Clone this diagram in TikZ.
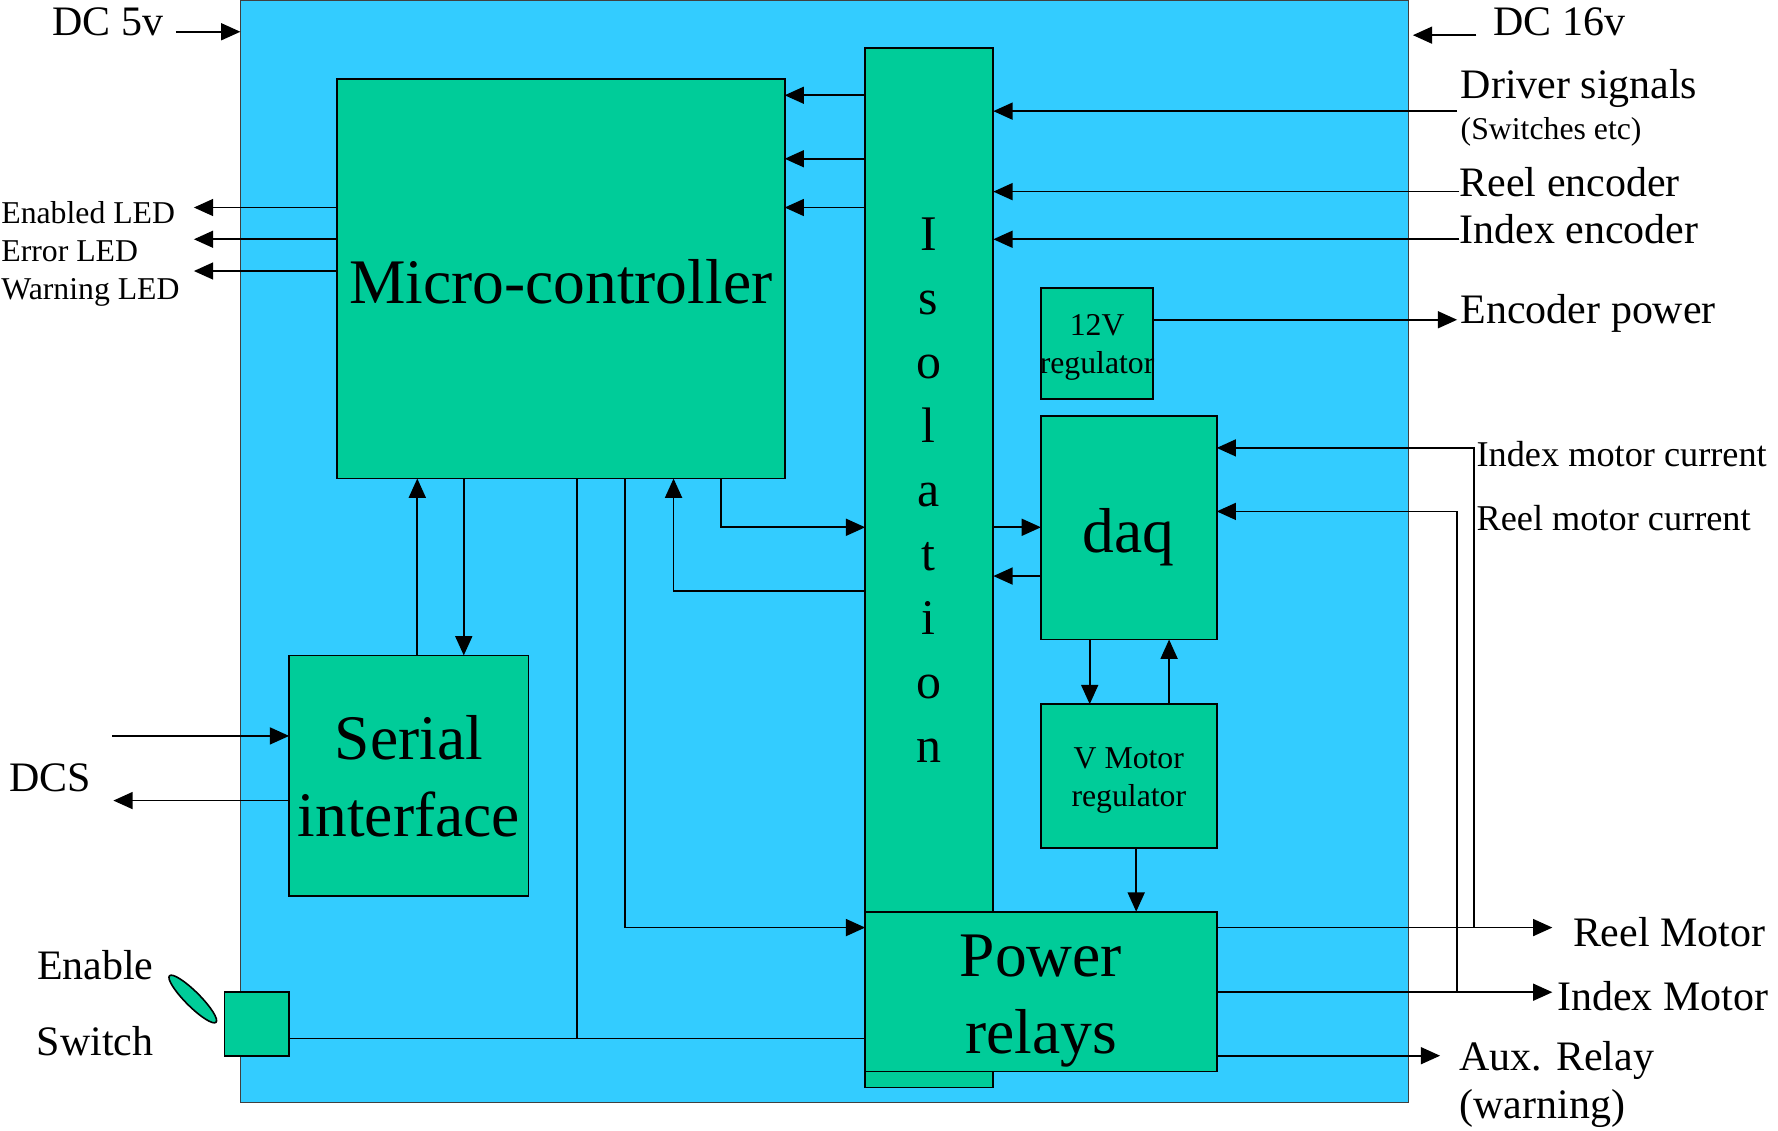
\documentclass[tikz,border=0pt]{standalone}
\usepackage{fontspec}
\setmainfont{Liberation Serif}
\usetikzlibrary{arrows.meta,shapes.geometric}
\definecolor{bgblue}{RGB}{51,204,255}
\definecolor{grn}{RGB}{0,204,153}
\begin{document}
\begin{tikzpicture}[x=1pt,y=-1pt,
  box/.style={draw=black, line width=1.6pt, fill=grn, anchor=north west, inner sep=0pt, outer sep=0pt},
  wire/.style={line width=1.4pt},
  arr/.style={wire, -{Triangle[length=17pt,width=15pt]}},
  tbig/.style={font=\fontsize{56}{68}\selectfont, inner sep=0pt, align=center},
  tlab/.style={font=\fontsize{37}{43}\selectfont, inner sep=0pt},
  tmid/.style={font=\fontsize{32}{38}\selectfont, inner sep=0pt},
  tsm/.style={font=\fontsize{28}{34}\selectfont, inner sep=0pt, align=center},
  tiso/.style={font=\fontsize{44}{56.4}\selectfont, inner sep=0pt, align=center},
]
\useasboundingbox (0,0) rectangle (1568,997);

% ---- boxes ----
\node[draw=black!75, line width=1.2pt, fill=bgblue, anchor=north west, inner sep=0pt, outer sep=0pt,
      minimum width=1030pt, minimum height=972pt] (main) at (212,0) {};
\node[box, minimum width=113pt, minimum height=917pt] (iso) at (763,42) {};
\node[box, minimum width=395pt, minimum height=352pt] (mc) at (297,70) {};
\node[box, minimum width=211pt, minimum height=212pt] (ser) at (255,578) {};
\node[box, minimum width=99pt, minimum height=98pt] (reg12) at (918,254) {};
\node[box, minimum width=155pt, minimum height=197pt] (daq) at (918,367) {};
\node[box, minimum width=155pt, minimum height=127pt] (vreg) at (918,621) {};
\node[box, minimum width=310pt, minimum height=141pt] (pr) at (763,804) {};
\node[box, minimum width=57pt, minimum height=56pt] (sw) at (198,875) {};
\node[draw=black, line width=1.4pt, fill=grn, ellipse, minimum width=58pt, minimum height=13pt,
      inner sep=0pt, rotate=-45] (knob) at (170,881) {};

% ---- box texts ----
\node[tbig, anchor=base] (mctext) at (494.5,268) {Micro-controller};
\node[tiso, anchor=north] (isotext) at (819,192) {I\\s\\o\\l\\a\\t\\i\\o\\n};
\node[tbig, anchor=north] (sertext) at (360.5,631) {Serial\\interface};
\node[tbig, anchor=north] (prtext) at (918,824) {Power\\relays};
\node[tbig, anchor=base] (daqtext) at (995.5,487) {daq};
\node[tsm, anchor=north] (vregtext) at (995.5,659) {V Motor\\regulator};
\node[tsm, anchor=north] (reg12text) at (967.5,277) {12V\\regulator};

% ---- outside labels ----
\node[tlab, anchor=base] (dc5) at (95,31) {DC 5v};
\node[tlab, anchor=base] (dc16) at (1375,31) {DC 16v};
\node[tlab, anchor=base west] (drv) at (1288,87) {Driver signals};
\node[tsm, anchor=base west] (swe) at (1288,123) {(Switches etc)};
\node[tlab, anchor=base west] (renc) at (1287,173) {Reel encoder};
\node[tlab, anchor=base west] (ienc) at (1287,215) {Index encoder};
\node[tlab, anchor=base west] (encp) at (1288,285) {Encoder power};
\node[tmid, anchor=base west] (imc) at (1302,411) {Index motor current};
\node[tmid, anchor=base west] (rmc) at (1302,468) {Reel motor current};
\node[tlab, anchor=base west] (rm) at (1387,835) {Reel Motor};
\node[tlab, anchor=base west] (im) at (1373,891) {Index Motor};
\node[tlab, anchor=base west] (aux) at (1287,944) {Aux. Relay};
\node[tlab, anchor=base west] (warn) at (1287,986) {(warning)};
\node[tlab, anchor=base] (dcs) at (44,698) {DCS};
\node[tlab, anchor=base] (en) at (84,864) {Enable};
\node[tlab, anchor=base] (swt) at (84,931) {Switch};
\node[tsm, anchor=base west] (led1) at (1,197) {Enabled LED};
\node[tsm, anchor=base west] (led2) at (1,231) {Error LED};
\node[tsm, anchor=base west] (led3) at (1,264) {Warning LED};

% ---- free ends ----
\coordinate (dc5a) at (155,28);
\coordinate (dc16a) at (1302,31);
\coordinate (drva) at (1285,98);
\coordinate (renca) at (1287,169);
\coordinate (ienca) at (1287,211);
\coordinate (encpa) at (1285,282);
\coordinate (led1a) at (171,183);
\coordinate (led2a) at (171,211);
\coordinate (led3a) at (171,239);
\coordinate (rma) at (1369,818);
\coordinate (ima) at (1369,875);
\coordinate (auxa) at (1270,931);
\coordinate (dcsin) at (99,649);
\coordinate (dcsout) at (100,706);
\coordinate (imcj) at (1300,818);
\coordinate (rmcj) at (1285,875);

% ---- connectors ----
\draw[arr] (dc5a) -- (dc5a -| main.west);
\draw[arr] (dc16a) -- ([xshift=4pt]dc16a -| main.east);
\foreach \yy in {84,140,183} \draw[arr] (iso.west |- 0,\yy) -- (mc.east |- 0,\yy);
\draw[arr] (drva) -- (drva -| iso.east);
\draw[arr] (renca) -- (renca -| iso.east);
\draw[arr] (ienca) -- (ienca -| iso.east);
\draw[arr] (encpa -| reg12.east) -- (encpa);
\draw[arr] (led1a -| mc.west) -- (led1a);
\draw[arr] (led2a -| mc.west) -- (led2a);
\draw[arr] (led3a -| mc.west) -- (led3a);
\draw[arr] (imcj) -- (1300,395) -- (daq.east |- 0,395);
\draw[arr] (rmcj) -- (1285,451) -- (daq.east |- 0,451);
\draw[arr] (iso.east |- 0,465) -- (daq.west |- 0,465);
\draw[arr] (daq.west |- 0,508) -- (iso.east |- 0,508);
\draw[arr] (daq.south -| 961,0) -- (vreg.north -| 961,0);
\draw[arr] (vreg.north -| 1031,0) -- (daq.south -| 1031,0);
\draw[arr] (vreg.south -| 1002,0) -- (pr.north -| 1002,0);
\draw[arr] (rma -| pr.east) -- (rma);
\draw[arr] (ima -| pr.east) -- (ima);
\draw[arr] (auxa -| pr.east) -- (auxa);
\draw[arr] (ser.north -| 368,0) -- (mc.south -| 368,0);
\draw[arr] (mc.south -| 409,0) -- (ser.north -| 409,0);
\draw[arr] (dcsin) -- (dcsin -| ser.west);
\draw[arr] (dcsout -| ser.west) -- (dcsout);
\draw[arr] (mc.south -| 551,0) -- (551,818) -- (pr.west |- 0,818);
\draw[arr] (mc.south -| 636,0) -- (636,465) -- (iso.west |- 0,465);
\draw[arr] (iso.west |- 0,521) -- (594,521) -- (mc.south -| 594,0);
\draw[wire] (sw.east |- 0,916) -- (pr.west |- 0,916);
\draw[wire] (mc.south -| 509,0) -- (509,916);
\end{tikzpicture}
\end{document}
